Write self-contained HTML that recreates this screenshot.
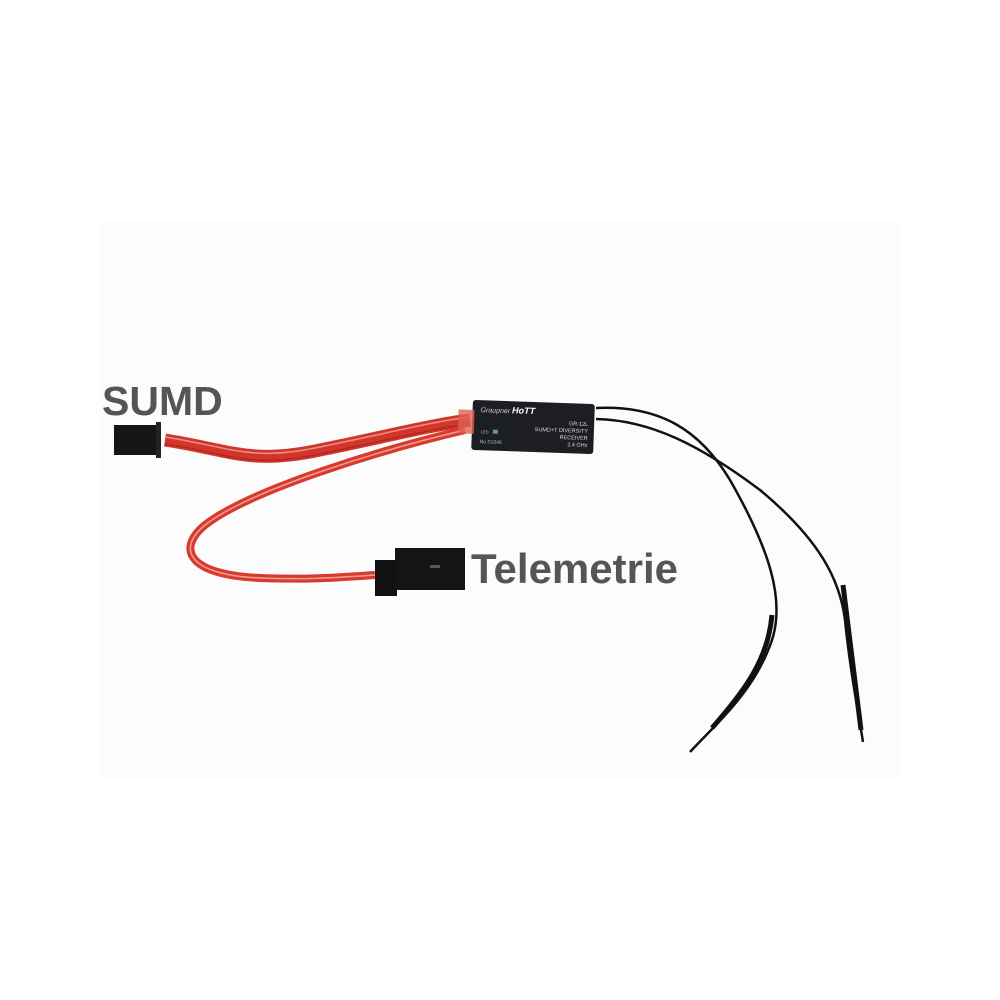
<!DOCTYPE html>
<html><head><style>
html,body{margin:0;padding:0;background:#fff;}
svg{display:block;}
</style></head><body>
<svg width="1000" height="1000" viewBox="0 0 1000 1000" xmlns="http://www.w3.org/2000/svg">
<rect width="1000" height="1000" fill="#fff"/>
<rect x="100" y="222" width="800" height="556" fill="#fcfcfc"/>
<!-- antennas -->
<path d="M596,408 C660,405 700,430 730,480 C770,550 785,600 772,640 C755,690 720,720 690,752" fill="none" stroke="#111" stroke-width="2.5"/>
<path d="M596,419 C650,420 700,445 760,490 C820,540 840,580 845,620 C850,670 858,710 863,742" fill="none" stroke="#111" stroke-width="2.5"/>
<path d="M772,615 C768,660 745,690 712,728" fill="none" stroke="#111" stroke-width="5"/>
<path d="M843,585 C850,640 856,690 861,730" fill="none" stroke="#111" stroke-width="5"/>
<!-- wire to telemetry -->
<path d="M465,430 C380,450 250,490 205,525 C175,550 190,575 260,578 C310,580 345,577 375,575" fill="none" stroke="#d93a30" stroke-width="8"/>
<path d="M465,430 C380,450 250,490 205,525 C175,550 190,575 260,578 C310,580 345,577 375,575" fill="none" stroke="#f0a090" stroke-width="1.5"/>
<!-- wire to SUMD -->
<path d="M165,440 C230,450 250,465 320,450 C380,438 430,425 470,420" fill="none" stroke="#d2352c" stroke-width="13"/>
<path d="M165,437 C230,447 250,462 320,447 C380,435 430,422 470,417" fill="none" stroke="#e99080" stroke-width="1.5"/>
<path d="M165,444 C230,454 250,469 320,454 C380,442 430,429 470,424" fill="none" stroke="#b02820" stroke-width="1.5"/>
<!-- SUMD connector -->
<rect x="114" y="425" width="44" height="30" fill="#151515"/>
<rect x="156" y="422" width="5" height="36" fill="#222"/>
<!-- telemetry connector -->
<rect x="375" y="560" width="22" height="36" fill="#111"/>
<rect x="395" y="548" width="70" height="42" fill="#141414"/>
<rect x="430" y="565" width="10" height="3" fill="#555"/>
<!-- receiver -->
<g transform="rotate(2 533 428)">
<rect x="472" y="402" width="122" height="50" rx="3" fill="#1c1e22"/>
<rect x="458" y="412" width="16" height="24" fill="#e06050" opacity="0.8"/>
<text x="480" y="414" font-family="Liberation Sans,sans-serif" font-size="7" font-style="italic" fill="#ccc">Graupner <tspan font-weight="bold" fill="#fff" font-size="9">HoTT</tspan></text>
<text x="588" y="424" text-anchor="end" font-family="Liberation Sans,sans-serif" font-size="5.5" fill="#ddd">GR-12L</text>
<text x="588" y="431" text-anchor="end" font-family="Liberation Sans,sans-serif" font-size="5.5" fill="#ddd">SUMD+T DIVERSITY</text>
<text x="588" y="438" text-anchor="end" font-family="Liberation Sans,sans-serif" font-size="5.5" fill="#ddd">RECEIVER</text>
<text x="588" y="445" text-anchor="end" font-family="Liberation Sans,sans-serif" font-size="5.5" fill="#ddd">2.4 GHz</text>
<text x="480" y="445" font-family="Liberation Sans,sans-serif" font-size="5" fill="#bbb">No.S1046</text>
<text x="481" y="435" font-family="Liberation Sans,sans-serif" font-size="4" fill="#bbb">LED</text>
<rect x="493" y="431" width="5" height="4" fill="#5a6" />
</g>
<text x="102" y="415" font-family="Liberation Sans,sans-serif" font-weight="bold" font-size="41" fill="#555">SUMD</text>
<text x="471" y="583" font-family="Liberation Sans,sans-serif" font-weight="bold" font-size="42" fill="#555">Telemetrie</text>
</svg>
</body></html>
